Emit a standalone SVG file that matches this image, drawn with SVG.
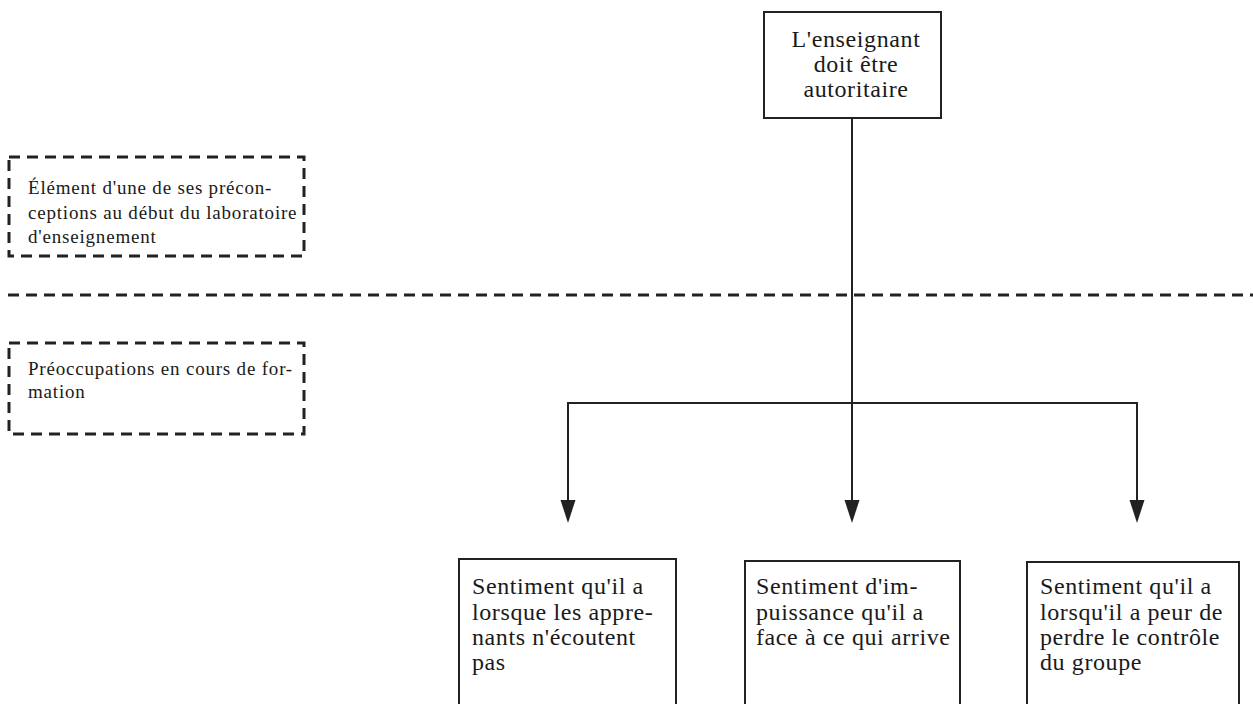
<svg xmlns="http://www.w3.org/2000/svg" width="1253" height="704" viewBox="0 0 1253 704">
  <style>
    .box { fill: #fff; stroke: #222; stroke-width: 2; }
    .dash { fill: none; stroke: #222; stroke-width: 3; stroke-dasharray: 11 7; }
    .wire { fill: none; stroke: #222; stroke-width: 2; }
    .head { fill: #222; }
    .t { font-family: "Liberation Serif", "Times New Roman", serif; font-size: 24px; letter-spacing: 0.6px; fill: #1a1a1a; }
    .s { font-family: "Liberation Serif", "Times New Roman", serif; font-size: 19px; letter-spacing: 0.8px; fill: #1a1a1a; }
  </style>
  <rect width="1253" height="704" fill="#fff"/>

  <!-- section divider -->
  <line class="dash" x1="8" y1="295" x2="1253" y2="295"/>

  <g id="legend-preconception">
    <rect class="dash" x="9" y="157" width="295" height="99"/>
    <text class="s" x="28" y="194">Élément d'une de ses précon-</text>
    <text class="s" x="28" y="219">ceptions au début du laboratoire</text>
    <text class="s" x="28" y="243">d'enseignement</text>
  </g>

  <g id="legend-formation">
    <rect class="dash" x="9" y="343" width="295" height="91"/>
    <text class="s" x="28" y="375">Préoccupations en cours de for-</text>
    <text class="s" x="28" y="398">mation</text>
  </g>

  <g id="connectors">
    <line class="wire" x1="852" y1="118" x2="852" y2="403"/>
    <line class="wire" x1="567" y1="403" x2="1138" y2="403"/>
    <line class="wire" x1="568" y1="403" x2="568" y2="502"/>
    <line class="wire" x1="852" y1="403" x2="852" y2="502"/>
    <line class="wire" x1="1137" y1="403" x2="1137" y2="502"/>
    <polygon class="head" points="560.5,500 575.5,500 568,523"/>
    <polygon class="head" points="844.5,500 859.5,500 852,523"/>
    <polygon class="head" points="1129.5,500 1144.5,500 1137,523"/>
  </g>

  <g id="node-autoritaire">
    <rect class="box" x="764" y="12" width="177" height="106"/>
    <text class="t" x="856" y="47" text-anchor="middle">L'enseignant</text>
    <text class="t" x="856" y="72" text-anchor="middle">doit être</text>
    <text class="t" x="856" y="97" text-anchor="middle">autoritaire</text>
  </g>

  <g id="node-ecoute">
    <rect class="box" x="459" y="559" width="217" height="160"/>
    <text class="t" x="472" y="594">Sentiment qu'il a</text>
    <text class="t" x="472" y="620">lorsque les appre-</text>
    <text class="t" x="472" y="645">nants n'écoutent</text>
    <text class="t" x="472" y="670">pas</text>
  </g>

  <g id="node-impuissance">
    <rect class="box" x="745" y="561" width="215" height="160"/>
    <text class="t" x="756" y="594">Sentiment d'im-</text>
    <text class="t" x="756" y="620">puissance qu'il a</text>
    <text class="t" x="756" y="645">face à ce qui arrive</text>
  </g>

  <g id="node-controle">
    <rect class="box" x="1027" y="562" width="212" height="160"/>
    <text class="t" x="1040" y="594">Sentiment qu'il a</text>
    <text class="t" x="1040" y="620">lorsqu'il a peur de</text>
    <text class="t" x="1040" y="645">perdre le contrôle</text>
    <text class="t" x="1040" y="670">du groupe</text>
  </g>
</svg>
